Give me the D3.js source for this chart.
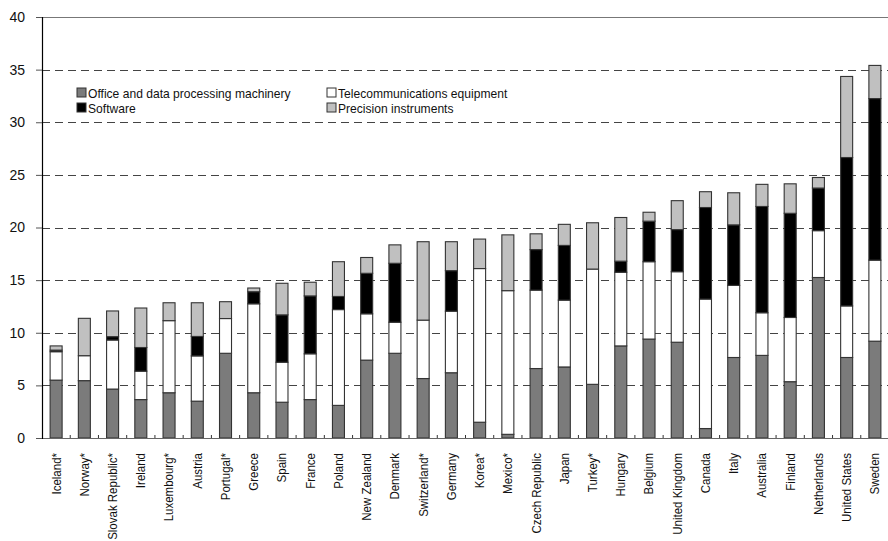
<!DOCTYPE html>
<html>
<head>
<meta charset="utf-8">
<script src="https://cdn.jsdelivr.net/npm/d3@7"></script>
<style>
  body { margin: 0; background: #fff; }
  svg { display: block; font-family: "Liberation Sans", Arial, sans-serif; }
</style>
</head>
<body>
<script>
// countries, sorted by total as in the original figure
const countries = ["Iceland*", "Norway*", "Slovak Republic*", "Ireland", "Luxembourg*", "Austria",
  "Portugal*", "Greece", "Spain", "France", "Poland", "New Zealand", "Denmark", "Switzerland*",
  "Germany", "Korea*", "Mexico*", "Czech Republic", "Japan", "Turkey*", "Hungary", "Belgium",
  "United Kingdom", "Canada", "Italy", "Australia", "Finland", "Netherlands", "United States", "Sweden"];

// series values
const office = [5.5, 5.45, 4.65, 3.65, 4.3, 3.5, 8.05, 4.3, 3.4, 3.65, 3.1, 7.4, 8.05, 5.65,
  6.2, 1.5, 0.35, 6.6, 6.75, 5.1, 8.75, 9.4, 9.1, 0.9, 7.65, 7.85, 5.35, 15.25, 7.65, 9.2];
const telecom = [2.7, 2.37, 4.66, 2.7, 6.85, 4.3, 3.3, 8.45, 3.8, 4.35, 9.1, 4.4, 2.95, 5.55,
  5.85, 14.6, 13.65, 7.45, 6.35, 10.95, 7.0, 7.35, 6.7, 12.3, 6.85, 4.05, 6.1, 4.45, 4.9, 7.7];
const software = [0.15, 0, 0.32, 2.25, 0, 1.85, 0, 1.15, 4.5, 5.5, 1.25, 3.85, 5.6, 0,
  3.85, 0, 0, 3.85, 5.2, 0, 1.05, 3.85, 4.0, 8.7, 5.75, 10.1, 9.9, 4.05, 14.1, 15.35];
const precision = [0.4, 3.55, 2.44, 3.75, 1.7, 3.2, 1.6, 0.35, 3.0, 1.3, 3.3, 1.5, 1.75, 7.45,
  2.75, 2.8, 5.3, 1.5, 2.0, 4.4, 4.15, 0.85, 2.75, 1.5, 3.05, 2.1, 2.8, 1.0, 7.7, 3.15];

const seriesNames = ["Office and data processing machinery", "Telecommunications equipment",
  "Software", "Precision instruments"];
const yTicks = [0, 5, 10, 15, 20, 25, 30, 35, 40];

const keys = ["office", "telecom", "software", "precision"];
const fills = { office: "#7b7b7b", telecom: "#ffffff", software: "#000000", precision: "#c0c0c0" };

const width = 888, height = 541;
const plotLeft = 42, plotRight = 889, plotTop = 17, plotBottom = 438;

const rows = countries.map((c, i) => ({
  country: c, office: office[i], telecom: telecom[i], software: software[i], precision: precision[i]
}));

const x = d3.scaleBand()
  .domain(countries)
  .range([plotLeft, plotRight])
  .paddingInner(0.575)
  .paddingOuter(0.2875);

const y = d3.scaleLinear().domain([0, 40]).range([plotBottom, plotTop]);

const svg = d3.select("body").append("svg")
  .attr("width", width)
  .attr("height", height);

// gridlines (dashed), the top one is solid
svg.append("g")
  .selectAll("line")
  .data(yTicks.filter(d => d > 0))
  .join("line")
  .attr("x1", plotLeft)
  .attr("x2", width)
  .attr("y1", d => Math.round(y(d)) + 0.5)
  .attr("y2", d => Math.round(y(d)) + 0.5)
  .attr("stroke", d => d === 40 ? "#777" : "#444")
  .attr("stroke-width", 1.2)
  .attr("stroke-dasharray", d => d === 40 ? null : "8,5");

// stacked bars
const stack = d3.stack().keys(keys);
const layers = stack(rows);

svg.append("g")
  .selectAll("g")
  .data(layers)
  .join("g")
  .attr("fill", d => fills[d.key])
  .selectAll("rect")
  .data(d => d)
  .join("rect")
  .attr("x", d => x(d.data.country))
  .attr("y", d => y(d[1]))
  .attr("width", x.bandwidth())
  .attr("height", d => Math.max(0, y(d[0]) - y(d[1])))
  .attr("stroke", "#333")
  .attr("stroke-width", 1.1);

// x baseline + small ticks between bars
svg.append("line")
  .attr("x1", plotLeft).attr("x2", width)
  .attr("y1", plotBottom + 0.5).attr("y2", plotBottom + 0.5)
  .attr("stroke", "#666").attr("stroke-width", 1.2);

svg.append("g")
  .selectAll("line")
  .data(countries.slice(0, -1))
  .join("line")
  .attr("x1", d => x(d) + x.bandwidth() / 2 + x.step() / 2)
  .attr("x2", d => x(d) + x.bandwidth() / 2 + x.step() / 2)
  .attr("y1", plotBottom)
  .attr("y2", plotBottom - 3)
  .attr("stroke", "#333");

// y axis
const yAxis = svg.append("g")
  .attr("transform", `translate(${plotLeft},0)`)
  .call(d3.axisLeft(y).tickValues(yTicks).tickSize(6).tickPadding(11));
yAxis.select(".domain").attr("stroke", "#000").attr("stroke-width", 1.2);
yAxis.selectAll(".tick line").attr("stroke", "#555");
yAxis.selectAll(".tick text")
  .attr("font-size", 14)
  .attr("font-family", "Liberation Sans, Arial, sans-serif")
  .attr("fill", "#111");

// country labels, rotated
svg.append("g")
  .selectAll("text")
  .data(countries)
  .join("text")
  .attr("transform", d => `translate(${x(d) + x.bandwidth() / 2},453) rotate(-90) scale(1,1.1)`)
  .attr("text-anchor", "end")
  .attr("dy", "0.35em")
  .attr("font-size", 11.5)
  .attr("fill", "#111")
  .text(d => d);

// legend: two columns, two rows
const legendPos = [
  { key: "office", x: 77, y: 88 },
  { key: "telecom", x: 327, y: 88 },
  { key: "software", x: 77, y: 103 },
  { key: "precision", x: 327, y: 103 }
];
const legend = svg.append("g")
  .selectAll("g")
  .data(legendPos)
  .join("g")
  .attr("transform", d => `translate(${d.x},${d.y})`);
legend.append("rect")
  .attr("width", 9).attr("height", 9)
  .attr("fill", d => fills[d.key])
  .attr("stroke", "#333");
legend.append("text")
  .attr("transform", "translate(11,9.5) scale(0.93,1)")
  .attr("font-size", 13)
  .attr("fill", "#111")
  .text(d => seriesNames[keys.indexOf(d.key)]);
</script>
</body>
</html>
